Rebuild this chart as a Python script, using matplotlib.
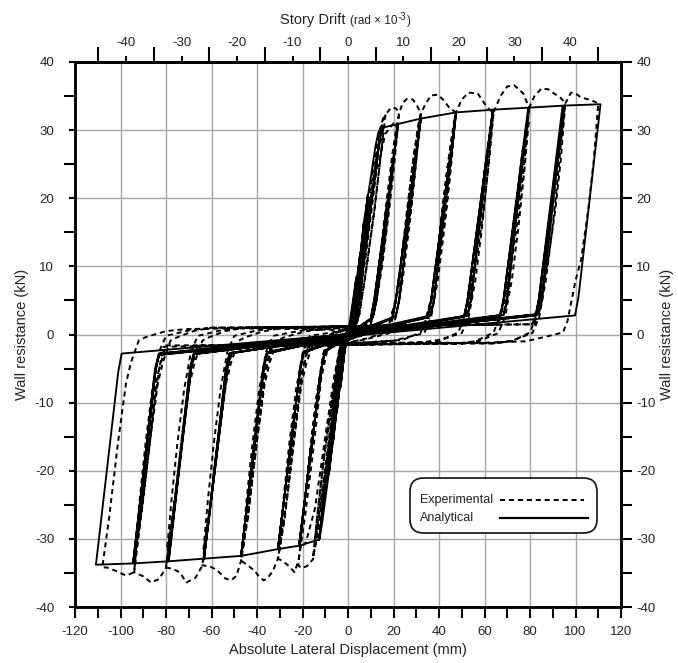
import numpy as np
import matplotlib
matplotlib.use("Agg")
import matplotlib.pyplot as plt
from matplotlib.ticker import MultipleLocator, FixedLocator
from matplotlib.patches import FancyBboxPatch
from matplotlib.lines import Line2D

plt.rcParams['font.family'] = ['Liberation Sans', 'DejaVu Sans']
plt.rcParams['axes.unicode_minus'] = False

# ---------------- data (displacement mm, force kN) ----------------
WALL_HEIGHT_MM = 2438.4   # story drift = displacement / height

ana_stage0 = [(0, 0), (3.5, 8.0), (1.2, 1.2), (-1.0, -0.8), (-3.2, -7.5), (-1.0, -1.0), (1.0, 0.8),
              (3.8, 8.5), (1.2, 1.2), (-1.0, -0.8), (-3.4, -7.8), (-1.0, -1.0), (1.0, 0.8),
              (5.2, 11.5), (2.0, 1.8), (-1.8, -1.0), (-4.8, -11.0), (-1.5, -1.8), (1.8, 1.0),
              (5.5, 12.0), (2.2, 2.0), (-1.8, -1.0), (-5.0, -11.5), (-1.6, -2.0), (1.8, 1.0),
              (4.0, 4.0), (7.0, 16.5), (2.5, 2.5), (-2.5, -1.0), (-3.8, -4.5), (-6.5, -15.5), (-2.0, -2.5), (2.5, 1.0),
              (4.0, 4.0), (7.0, 16.5), (2.5, 2.5), (-2.5, -1.0), (-3.8, -4.5), (-6.5, -15.5), (-2.0, -2.5), (2.5, 1.0),
              (5.0, 5.5), (8.5, 20.0), (3.5, 3.0), (-3.0, -1.2), (-4.5, -5.5), (-8.2, -20.0), (-2.8, -3.0), (3.0, 1.2),
              (5.2, 5.8), (8.7, 20.5), (3.6, 3.0), (-3.0, -1.2), (-4.6, -5.6), (-8.4, -20.5), (-2.8, -3.0), (3.0, 1.2)]
ana_stage1 = [(4.0, 4.0), (7.0, 16.5), (10.0, 23.0), (12.0, 27.5), (13.3, 29.6), (14.5, 30.3), (4.5, 4.0), (3.0, 2.2),
              (-2.8, -1.2), (-4.0, -4.0), (-6.5, -15.5), (-9.5, -23.0), (-11.3, -27.5), (-12.2, -29.4), (-12.7, -30.1),
              (-3.5, -4.0), (-2.2, -2.2), (3.0, 1.3), (4.2, 4.0), (14.5, 30.3), (4.5, 4.0), (3.0, 2.2),
              (-2.8, -1.2), (-4.0, -4.0), (-12.7, -30.1), (-3.5, -4.0), (-2.2, -2.2), (3.0, 1.3)]
ana_stage2 = [(4.2, 4.0), (14.5, 30.3), (22.0, 30.9), (12.5, 5.0), (11.0, 2.6), (-3.0, -1.6), (-4.2, -4.0),
              (-12.7, -30.1), (-21.5, -31.0), (-11.7, -5.0), (-10.2, -2.6), (10.0, 2.3), (11.5, 5.0), (22.0, 30.9),
              (12.5, 5.0), (11.0, 2.6), (-10.2, -2.4), (-11.7, -5.0), (-21.5, -31.0), (-11.7, -5.0), (-10.2, -2.6), (10.0, 2.3)]
ana_stage3 = [(11.5, 5.0), (22.0, 30.9), (32.0, 31.7), (22.5, 5.0), (21.0, 2.7), (-10.2, -2.4), (-11.7, -5.0),
              (-21.5, -31.0), (-30.8, -31.5), (-21.0, -5.0), (-19.5, -2.7), (19.5, 2.4), (21.0, 5.0), (32.0, 31.7),
              (22.5, 5.0), (21.0, 2.7), (-19.5, -2.5), (-21.0, -5.0), (-30.8, -31.5), (-21.0, -5.0), (-19.5, -2.7), (19.5, 2.4)]
ana_stage4 = [(21.0, 5.0), (32.0, 31.7), (47.5, 32.6), (37.8, 5.0), (36.3, 2.8), (-19.5, -2.5), (-21.0, -5.0),
              (-30.8, -31.5), (-47.0, -32.5), (-37.3, -5.0), (-35.8, -2.8), (35.0, 2.5), (36.5, 5.0), (47.5, 32.6),
              (37.8, 5.0), (36.3, 2.8), (-35.5, -2.6), (-37.0, -5.0), (-47.0, -32.5), (-37.3, -5.0), (-35.8, -2.8), (35.0, 2.5)]
ana_stage5 = [(36.5, 5.0), (47.5, 32.6), (63.7, 33.0), (54.0, 5.0), (52.5, 2.8), (-35.5, -2.6), (-37.0, -5.0),
              (-47.0, -32.5), (-63.3, -32.9), (-53.6, -5.0), (-52.1, -2.8), (51.0, 2.6), (52.5, 5.0), (63.7, 33.0),
              (54.0, 5.0), (52.5, 2.8), (-51.5, -2.7), (-53.0, -5.0), (-63.3, -32.9), (-53.6, -5.0), (-52.1, -2.8), (51.0, 2.6)]
ana_stage6 = [(52.5, 5.0), (63.7, 33.0), (79.6, 33.3), (69.9, 5.0), (68.4, 2.9), (-51.5, -2.7), (-53.0, -5.0),
              (-63.3, -32.9), (-79.1, -33.3), (-69.4, -5.0), (-67.9, -2.9), (67.0, 2.7), (68.3, 5.0), (79.2, 33.2),
              (69.9, 5.0), (68.4, 2.9), (-67.5, -2.7), (-69.0, -5.0), (-78.8, -33.2), (-69.4, -5.0), (-67.9, -2.9), (67.0, 2.7)]
ana_stage7 = [(68.3, 5.0), (79.6, 33.3), (95.0, 33.6), (85.3, 5.0), (83.8, 3.0), (-67.5, -2.8), (-69.0, -5.0),
              (-79.1, -33.3), (-94.5, -33.6), (-84.8, -5.0), (-83.3, -3.0), (82.5, 2.8), (83.8, 5.0), (94.3, 33.5),
              (85.0, 5.0), (83.5, 3.0), (-83.0, -2.8), (-84.5, -5.0), (-93.8, -33.5), (-84.5, -5.0), (-83.0, -3.0), (82.5, 2.8)]
ana_stage8 = [(83.8, 5.0), (95.0, 33.6), (111.0, 33.8), (101.3, 5.5), (99.8, 2.8), (-83.0, -2.8), (-84.5, -5.0),
              (-94.5, -33.6), (-110.8, -33.8), (-101.0, -5.5), (-99.5, -2.8), (20.0, 0.6)]

exp_stage0 = [(0, 0), (3.8, 8.0), (1.8, 1.5), (-1.2, -0.5), (-3.4, -7.8), (-1.5, -1.5), (1.2, 0.5),
              (4.0, 8.5), (1.8, 1.5), (-1.2, -0.5), (-3.6, -8.0), (-1.5, -1.5), (1.2, 0.5),
              (5.5, 12.0), (2.5, 2.0), (-2.0, -0.8), (-5.2, -11.5), (-2.2, -2.0), (2.0, 0.8),
              (4.5, 7.0), (7.5, 16.0), (5.5, 8.0), (3.0, 1.0), (-2.0, -0.5), (-4.5, -7.5), (-7.0, -15.5), (-5.0, -7.5),
              (-2.5, -1.0), (2.0, 0.5), (4.5, 7.0), (7.5, 16.0), (5.5, 8.0), (3.0, 1.0), (-2.0, -0.5), (-4.5, -7.5),
              (-7.0, -15.5), (-5.0, -7.5), (-2.5, -1.0), (2.0, 0.5),
              (5.5, 8.0), (9.0, 20.0), (6.5, 9.0), (3.8, 1.0), (-2.5, -0.6), (-5.5, -8.0), (-8.8, -20.0),
              (-6.2, -9.0), (-3.5, -1.0), (2.5, 0.6)]
exp_stage1 = [(4.5, 7.0), (8.0, 17.0), (11.0, 24.5), (13.5, 29.5), (15.5, 31.8), (16.5, 32.3), (14.5, 26.5),
              (11.5, 18.0), (8.0, 9.5), (5.0, 3.0), (2.5, 0.3), (-2.5, -0.8), (-4.5, -7.0), (-8.0, -16.5), (-11.0, -24.0),
              (-13.5, -29.5), (-14.5, -31.3), (-15.4, -32.8), (-13.5, -26.5), (-10.5, -18.0), (-7.0, -9.5), (-4.0, -3.0),
              (-1.5, -0.3), (2.5, 0.8), (4.5, 6.0), (8.0, 15.0), (12.0, 25.0), (15.5, 30.5), (14.5, 26.5), (11.5, 18.0),
              (8.0, 9.5), (5.0, 3.0), (2.5, 0.3), (-2.5, -0.8), (-4.5, -6.0), (-8.0, -15.0), (-12.0, -25.0), (-14.5, -30.0),
              (-13.5, -26.5), (-10.5, -18.0), (-7.0, -9.5), (-4.0, -3.0), (-1.5, -0.3), (2.5, 0.8)]
exp_stage2 = [(5.0, 6.0), (9.0, 17.0), (12.5, 26.0), (15.0, 31.0), (16.5, 32.3), (19.0, 33.3), (21.0, 33.2),
              (22.5, 32.6), (20.5, 25.5), (18.0, 18.0), (15.0, 10.0), (12.0, 4.0), (9.5, 1.0), (7.0, 0.0), (0, -0.8),
              (-3.0, -1.5), (-5.0, -6.0), (-9.0, -17.0), (-12.5, -26.0), (-14.5, -31.0), (-15.4, -33.0), (-18.0, -34.0),
              (-20.5, -34.3), (-21.8, -33.9), (-19.8, -26.5), (-17.0, -18.0), (-14.0, -9.5), (-11.0, -3.0), (-8.5, -0.3),
              (-5.0, 0.3), (2.0, 1.0), (4.0, 3.0), (8.0, 12.0), (12.5, 24.0), (16.5, 29.5), (20.0, 31.0), (21.5, 30.5),
              (19.5, 23.5), (16.5, 14.5), (13.0, 6.0), (10.0, 1.5), (7.5, 0.0), (0, -0.8), (-3.5, -1.8), (-6.0, -6.0),
              (-10.0, -15.0), (-14.5, -25.5), (-18.5, -30.5), (-21.0, -31.5), (-19.5, -26.0), (-16.5, -17.0),
              (-13.5, -8.5), (-10.5, -2.5), (-8.0, -0.3), (-5.0, 0.3), (5.0, 1.2)]
exp_stage3 = [(9.5, 1.5), (12.5, 6.5), (16.0, 17.0), (19.5, 26.5), (21.5, 31.0), (22.5, 32.5), (24.0, 34.0),
              (26.0, 34.6), (28.5, 34.5), (30.5, 33.5), (32.0, 32.4), (30.0, 25.5), (27.5, 18.0), (24.4, 10.9),
              (22.0, 6.5), (18.5, 2.0), (16.5, 0.3), (8.0, -0.6), (0, -1.2), (-6.0, -1.5), (-8.8, -1.8), (-11.8, -6.5),
              (-15.3, -17.0), (-18.8, -26.5), (-20.8, -31.0), (-21.8, -33.2), (-23.5, -34.9), (-26.0, -34.0),
              (-28.5, -33.3), (-30.8, -32.9), (-27.8, -26.9), (-23.8, -15.6), (-20.4, -7.2), (-18.2, -4.1),
              (-14.8, -0.9), (-11.8, -0.4), (-4.0, 0.4), (4.0, 1.0), (18.0, 1.4), (21.0, 5.0), (25.0, 15.0),
              (28.0, 24.0), (30.5, 29.5), (31.5, 31.5), (29.5, 24.0), (27.0, 16.0), (24.0, 8.0), (21.0, 2.5),
              (18.0, 0.2), (8.0, -0.7), (0, -1.2), (-16.8, -1.4), (-19.8, -5.0), (-23.8, -15.0), (-26.8, -24.0),
              (-29.3, -29.5), (-30.3, -31.5), (-28.3, -24.0), (-25.8, -16.0), (-22.8, -8.0), (-19.8, -2.5),
              (-16.8, -0.2), (-5.0, 0.4), (5.0, 1.0), (19.0, 1.5)]
exp_stage4 = [(22.0, 6.5), (25.5, 17.0), (29.0, 26.5), (31.0, 31.0), (32.0, 32.4), (34.0, 33.8), (36.5, 35.1),
              (39.5, 35.2), (42.0, 34.4), (44.5, 33.3), (47.5, 32.6), (45.5, 25.5), (43.0, 18.0), (39.9, 10.9),
              (37.5, 6.5), (34.0, 2.0), (32.0, 0.3), (24.0, -0.8), (12.0, -1.1), (0, -1.3), (-10.0, -1.5),
              (-17.8, -1.8), (-20.8, -6.5), (-24.3, -17.0), (-27.8, -26.5), (-29.8, -31.0), (-30.8, -32.9),
              (-33.0, -34.7), (-35.0, -35.6), (-37.0, -36.1), (-39.0, -35.6), (-41.0, -34.7), (-44.0, -33.9),
              (-47.0, -33.2), (-44.0, -26.9), (-40.0, -15.6), (-36.6, -7.2), (-34.4, -4.1), (-31.0, -0.9),
              (-28.0, -0.4), (-18.0, 0.5), (-8.0, 0.9), (5.0, 1.1), (20.0, 1.3), (33.5, 1.4), (36.5, 5.0),
              (40.5, 15.0), (43.5, 24.0), (46.0, 29.5), (47.0, 31.5), (45.0, 24.0), (42.5, 16.0), (39.5, 8.0),
              (36.5, 2.5), (33.5, 0.2), (20.0, -0.9), (0, -1.3), (-33.0, -1.5), (-36.0, -5.0), (-40.0, -15.0),
              (-43.0, -24.0), (-45.5, -29.5), (-46.5, -31.5), (-44.5, -24.0), (-42.0, -16.0), (-39.0, -8.0),
              (-36.0, -2.5), (-33.0, -0.2), (-20.0, 0.6), (0, 1.0), (35.0, 1.4)]
exp_stage5 = [(37.5, 6.5), (41.0, 17.0), (44.5, 26.5), (46.5, 31.0), (47.5, 32.6), (50.0, 34.5), (53.0, 35.5),
              (57.0, 35.4), (60.0, 33.9), (62.5, 32.9), (64.0, 32.6), (62.0, 25.5), (59.5, 18.0), (56.4, 10.9),
              (54.0, 6.5), (50.5, 2.0), (48.5, 0.3), (40.0, -1.0), (30.0, -1.2), (15.0, -1.2), (0, -1.4),
              (-20.0, -1.6), (-34.0, -1.8), (-37.0, -6.5), (-40.5, -17.0), (-44.0, -26.5), (-46.0, -31.0),
              (-47.0, -33.2), (-49.0, -35.4), (-51.4, -36.1), (-54.0, -35.8), (-56.0, -35.1), (-58.0, -34.5),
              (-61.0, -34.0), (-64.0, -33.9), (-61.0, -26.9), (-57.0, -15.6), (-53.6, -7.2), (-51.4, -4.1),
              (-48.0, -0.9), (-45.0, -0.4), (-38.0, 0.4), (-30.0, 0.9), (-15.0, 1.0), (0, 1.2), (25.0, 1.3),
              (50.0, 1.5), (53.0, 5.0), (57.0, 15.0), (60.0, 24.0), (62.5, 29.5), (63.5, 31.5), (61.5, 24.0),
              (59.0, 16.0), (56.0, 8.0), (53.0, 2.5), (50.0, 0.2), (40.0, -0.8), (32.0, -1.2), (0, -1.4),
              (-50.0, -1.6), (-53.0, -5.0), (-57.0, -15.0), (-60.0, -24.0), (-62.5, -29.5), (-63.5, -31.5),
              (-61.5, -24.0), (-59.0, -16.0), (-56.0, -8.0), (-53.0, -2.5), (-50.0, -0.2), (-40.0, 0.6),
              (-30.0, 1.0), (0, 1.2), (51.0, 1.5)]
exp_stage6 = [(54.0, 6.5), (57.5, 17.0), (61.0, 26.5), (63.0, 31.0), (64.0, 32.6), (67.0, 35.0), (70.0, 36.4),
              (73.0, 36.6), (77.0, 35.4), (79.6, 33.3), (77.6, 25.5), (75.1, 18.0), (72.0, 10.9), (69.6, 6.5),
              (66.0, 2.0), (64.0, 0.3), (56.0, -1.0), (48.0, -1.3), (30.0, -1.2), (0, -1.5), (-30.0, -1.6),
              (-51.0, -1.8), (-54.0, -6.5), (-57.5, -17.0), (-61.0, -26.5), (-63.0, -31.0), (-64.0, -33.9),
              (-67.0, -35.7), (-71.0, -36.4), (-74.0, -34.9), (-77.0, -34.4), (-80.0, -34.2), (-77.0, -26.9),
              (-73.0, -15.6), (-69.6, -7.2), (-67.4, -4.1), (-64.0, -0.9), (-61.0, -0.4), (-54.0, 0.5),
              (-45.0, 1.0), (-20.0, 1.0), (0, 1.2), (30.0, 1.4), (66.0, 1.5), (69.0, 5.0), (73.0, 15.0),
              (76.0, 24.0), (78.5, 29.5), (79.5, 31.5), (77.5, 24.0), (75.0, 16.0), (72.0, 8.0), (69.0, 2.5),
              (66.0, 0.2), (58.0, -0.9), (50.0, -1.3), (0, -1.5), (-66.0, -1.6), (-69.0, -5.0), (-73.0, -15.0),
              (-76.0, -24.0), (-78.5, -29.5), (-79.5, -31.5), (-77.5, -24.0), (-75.0, -16.0), (-72.0, -8.0),
              (-69.0, -2.5), (-66.0, -0.2), (-56.0, 0.6), (-45.0, 1.0), (0, 1.2), (66.0, 1.5)]
exp_stage7 = [(69.5, 6.5), (73.0, 17.0), (76.5, 26.5), (78.6, 31.0), (79.6, 33.3), (82.0, 35.0), (85.0, 36.1),
              (88.0, 36.0), (90.5, 35.4), (93.6, 34.7), (95.5, 33.9), (93.5, 25.5), (91.0, 18.0), (87.9, 10.9),
              (85.5, 6.5), (82.0, 2.0), (80.0, 0.3), (72.0, -1.0), (64.0, -1.3), (40.0, -1.2), (0, -1.5),
              (-40.0, -1.6), (-67.0, -1.8), (-70.0, -6.5), (-73.5, -17.0), (-77.0, -26.5), (-79.0, -31.0),
              (-80.0, -34.2), (-83.0, -35.9), (-86.6, -36.4), (-90.0, -35.5), (-94.0, -34.9), (-91.0, -26.9),
              (-87.0, -15.6), (-83.6, -7.2), (-81.4, -4.1), (-78.0, -0.9), (-75.0, -0.4), (-68.0, 0.5),
              (-60.0, 1.0), (-30.0, 1.0), (0, 1.2), (40.0, 1.4), (81.0, 1.5), (84.0, 5.0), (88.0, 15.0),
              (91.0, 24.0), (93.5, 29.5), (94.5, 31.5), (92.5, 24.0), (90.0, 16.0), (87.0, 8.0), (84.0, 2.5),
              (81.0, 0.2), (72.0, -0.9), (64.0, -1.3), (0, -1.5), (-80.0, -1.6), (-83.0, -5.0), (-87.0, -15.0),
              (-90.0, -24.0), (-92.5, -29.5), (-93.5, -31.5), (-91.5, -24.0), (-89.0, -16.0), (-86.0, -8.0),
              (-83.0, -2.5), (-80.0, -0.2), (-70.0, 0.6), (-60.0, 1.0), (0, 1.2), (82.0, 1.5)]
exp_stage8 = [(85.5, 6.5), (89.0, 17.0), (92.5, 26.5), (94.5, 31.0), (95.5, 33.9), (98.0, 35.5), (100.0, 35.4),
              (102.4, 34.8), (107.0, 34.4), (110.0, 33.9), (108.0, 25.5), (105.5, 18.0), (102.4, 10.9),
              (100.0, 7.9), (96.5, 2.0), (94.5, 0.3), (86.0, -0.4), (78.0, -1.0), (60.0, -1.2), (0, -1.5),
              (-50.0, -1.6), (-81.0, -1.8), (-84.0, -6.5), (-87.5, -17.0), (-91.0, -26.5), (-93.0, -31.0),
              (-94.0, -34.9), (-97.6, -35.4), (-102.0, -34.7), (-106.0, -34.2), (-108.0, -34.2), (-105.0, -26.9),
              (-101.0, -15.6), (-97.6, -7.2), (-95.4, -4.1), (-92.0, -0.9), (-89.0, -0.4), (-80.0, 0.5),
              (-71.0, 0.8), (-50.0, 0.9), (-20.0, 0.8), (0, 0.6)]

analytical = np.array(ana_stage0 + ana_stage1 + ana_stage2 + ana_stage3 + ana_stage4 +
                      ana_stage5 + ana_stage6 + ana_stage7 + ana_stage8)
experimental = np.array(exp_stage0 + exp_stage1 + exp_stage2 + exp_stage3 + exp_stage4 +
                        exp_stage5 + exp_stage6 + exp_stage7 + exp_stage8)

x_ticks = list(range(-120, 121, 20))
y_ticks = list(range(-40, 41, 10))
drift_ticks = list(range(-40, 41, 10))
drift_minor = list(range(-45, 46, 10))

# ---------------- figure ----------------
W, H = 678, 663
fig = plt.figure(figsize=(W / 100, H / 100), dpi=100)
L, R, T, B = 75, 621, 62, 607
ax = fig.add_axes([L / W, 1 - B / H, (R - L) / W, (B - T) / H])

tick_col = '#222222'
ax.plot(experimental[:, 0], experimental[:, 1], color='black', lw=1.4,
        dashes=(2.6, 2.0), zorder=3)
ax.plot(analytical[:, 0], analytical[:, 1], color='black', lw=1.35, zorder=4)

ax.set_xlim(-120, 120)
ax.set_ylim(-40, 40)
ax.set_xticks(x_ticks)
ax.xaxis.set_minor_locator(MultipleLocator(10))
ax.set_yticks(y_ticks)
ax.yaxis.set_minor_locator(MultipleLocator(5))
ax.grid(True, which='major', color='#a8a8a8', lw=1.0, zorder=0)
ax.set_axisbelow(True)
for s in ax.spines.values():
    s.set_linewidth(1.8)
    s.set_color('black')
ax.tick_params(axis='x', which='both', direction='out', length=8, width=1.5,
               labelsize=9.5, labelcolor=tick_col, pad=6)
ax.tick_params(axis='y', which='major', direction='out', length=4, width=1.5,
               labelsize=9.5, labelcolor=tick_col, pad=11)
ax.tick_params(axis='y', which='minor', direction='out', length=8, width=1.5)
ax.set_xlabel('Absolute Lateral Displacement (mm)', fontsize=10.5, color=tick_col, labelpad=3)
ax.set_ylabel('Wall resistance (kN)', fontsize=10.5, color=tick_col, labelpad=4)

# right axis
axr = ax.twinx()
axr.set_ylim(-40, 40)
axr.set_yticks(y_ticks)
axr.yaxis.set_minor_locator(MultipleLocator(5))
axr.tick_params(axis='y', which='both', direction='out', length=8, width=1.5,
                labelsize=9.5, labelcolor=tick_col, pad=3)
axr.set_ylabel('Wall resistance (kN)', fontsize=10.5, color=tick_col, labelpad=3)
for s in axr.spines.values():
    s.set_linewidth(1.8)

# top axis: story drift
sec = ax.secondary_xaxis('top', functions=(lambda d: d / WALL_HEIGHT_MM * 1000.0,
                                           lambda r: r * WALL_HEIGHT_MM / 1000.0))
sec.set_xticks(drift_ticks)
sec.xaxis.set_minor_locator(FixedLocator(drift_minor))
sec.tick_params(axis='x', which='major', direction='out', length=4, width=1.5,
                labelsize=9.5, labelcolor=tick_col, pad=5)
sec.tick_params(axis='x', which='minor', direction='out', length=11, width=1.5)
sec.spines['top'].set_linewidth(1.8)

t1 = fig.text(280 / W, 1 - 24 / H, 'Story Drift', fontsize=10.5, color=tick_col,
              ha='left', va='baseline')
t2 = ax.annotate('(rad \u00d7 10', xy=(1, 0), xycoords=t1, xytext=(3, 0.3),
                 textcoords='offset points', fontsize=8.5, color=tick_col,
                 ha='left', va='bottom', annotation_clip=False)
t3 = ax.annotate('-3', xy=(1, 1), xycoords=t2, xytext=(0.5, 2),
                 textcoords='offset points', fontsize=7, color=tick_col,
                 ha='left', va='top', annotation_clip=False)
t4 = ax.annotate(')', xy=(1, 0), xycoords=t2, xytext=(7, 0),
                 textcoords='offset points', fontsize=8.5, color=tick_col,
                 ha='left', va='bottom', annotation_clip=False)

# legend (drawn in axes coordinates)
def axc(px, py):
    return ((px - L) / (R - L), (B - py) / (B - T))

bx0, by0 = axc(410, 533)
bx1, by1 = axc(597, 478)
box = FancyBboxPatch((bx0, by0), bx1 - bx0, by1 - by0,
                     boxstyle='round,pad=0,rounding_size=0.025',
                     transform=ax.transAxes, facecolor='white', edgecolor='#111111',
                     lw=1.2, zorder=6)
ax.add_patch(box)
tx, ty1 = axc(420, 500)
_, ty2 = axc(420, 518)
ax.text(tx, ty1, 'Experimental', transform=ax.transAxes, fontsize=9, color=tick_col,
        va='center', ha='left', zorder=7)
ax.text(tx, ty2, 'Analytical', transform=ax.transAxes, fontsize=9, color=tick_col,
        va='center', ha='left', zorder=7)
lx0, _ = axc(500, 0)
lx1, _ = axc(584, 0)
lx2, _ = axc(588, 0)
ax.add_line(Line2D([lx0, lx1], [ty1, ty1], transform=ax.transAxes, color='black',
                   lw=1.4, dashes=(2.6, 2.0), zorder=7))
ax.add_line(Line2D([lx0, lx2], [ty2, ty2], transform=ax.transAxes, color='black',
                   lw=1.6, zorder=7))

fig.savefig('out.png', dpi=100)
